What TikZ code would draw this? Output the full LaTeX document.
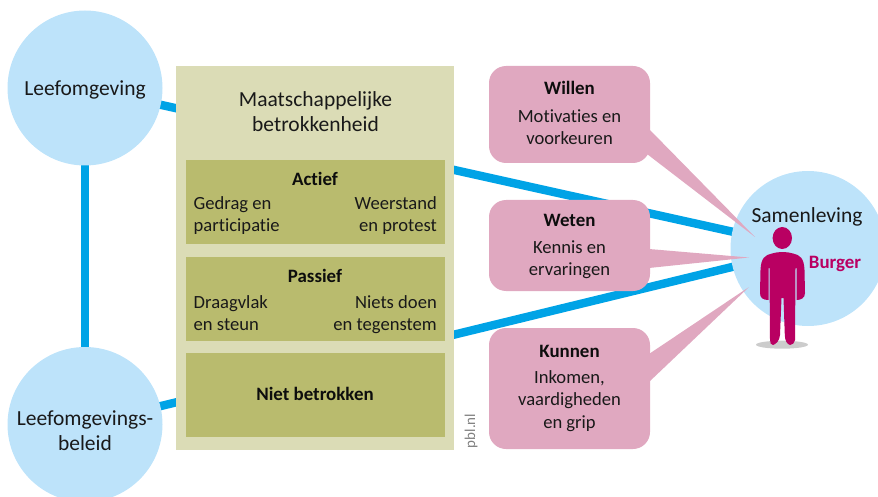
\documentclass[tikz,border=0pt]{standalone}
\usepackage{fontspec}
\setmainfont[Ligatures=NoCommon]{Carlito}
\usetikzlibrary{backgrounds}
\definecolor{skyc}{HTML}{BDE3FA}
\definecolor{linec}{HTML}{00A3E6}
\definecolor{paleo}{HTML}{DBDCB6}
\definecolor{olivec}{HTML}{B9BB6E}
\definecolor{pinkc}{HTML}{E0A8C0}
\definecolor{magc}{HTML}{B90062}
\definecolor{shadc}{HTML}{CCCCCC}
\newcommand{\bigt}{\fontsize{21.5}{25}\selectfont}
\newcommand{\midt}{\fontsize{18.6}{22.5}\selectfont}
\newcommand{\hdt}{\fontsize{18.9}{22.5}\selectfont}
\tikzset{
  world/.style={circle,fill=skyc,minimum size=155pt,inner sep=0pt},
  link/.style={draw=linec,line width=8.4pt},
  outer/.style={fill=paleo,inner sep=0pt},
  inner/.style={fill=olivec,inner sep=0pt,minimum width=259pt},
  bubble/.style={fill=pinkc,rounded corners=17pt,inner sep=0pt,minimum width=161pt},
  tail/.style={fill=pinkc},
  bigtxt/.style={font=\bigt,align=center,inner sep=0pt,text=black!90},
  midtxt/.style={font=\midt,align=center,inner sep=0pt,text=black!90},
  headtxt/.style={font=\hdt\bfseries,align=center,inner sep=0pt,text=black!95},
}
\begin{document}
\begin{tikzpicture}[x=1pt,y=-1pt]
\useasboundingbox (0,0) rectangle (878,497);
\clip (0,0) rectangle (878,497);
% circles
\node[world] (leef) at (85,88) {};
\node[world] (beleid) at (85,424.5) {};
\node[world] (sam) at (808,248.5) {};
% connectors behind everything
\begin{scope}[on background layer]
\draw[link] (leef.center) -- (beleid.center);
\draw[link] (leef.center) -- (sam.center);
\draw[link] (beleid.center) -- (sam.center);
\end{scope}
% central panel
\node[outer,minimum width=278pt,minimum height=384pt] (panel) at (315,258) {};
\node[inner,minimum height=84pt] (actief) at (315.5,202) {};
\node[inner,minimum height=84pt] (passief) at (315.5,299) {};
\node[inner,minimum height=84pt] (niet) at (315.5,395) {};
\node[bigtxt] (ptitle) at (315.5,111.5) {Maatschappelijke\\betrokkenheid};
\node[headtxt] (h1) at (315,179) {Actief};
\node[midtxt,align=left,anchor=west] (a1) at (193.5,215.5) {Gedrag en\\participatie};
\node[midtxt,align=right,anchor=east] (a2) at (437,215.5) {Weerstand\\en protest};
\node[headtxt] (h2) at (315,276) {Passief};
\node[midtxt,align=left,anchor=west] (b1) at (193.5,313) {Draagvlak\\en steun};
\node[midtxt,align=right,anchor=east] (b2) at (437,314.5) {Niets doen\\en tegenstem};
\node[headtxt] (h3) at (315,394) {Niet betrokken};
\node[rotate=90,font=\fontsize{15}{15}\selectfont,text=black!50,inner sep=0pt] (pbl) at (471,431) {pbl.nl};
% bubbles
\fill[tail] (649,129) -- (755,237) -- (647,154) -- cycle;
\fill[tail] (649,249) -- (749,257.5) -- (649,268) -- cycle;
\fill[tail] (649,354) -- (749,287) -- (649,382) -- cycle;
\node[bubble,minimum height=97pt] (willen) at (569.5,114.5) {};
\node[bubble,minimum height=91pt] (weten) at (569.5,245.5) {};
\node[bubble,minimum height=121pt] (kunnen) at (569.5,388.5) {};
\node[headtxt] (w1) at (569.5,88) {Willen};
\node[midtxt] (w2) at (569.5,127) {Motivaties en\\voorkeuren};
\node[headtxt] (k1) at (569.5,220) {Weten};
\node[midtxt] (k2) at (569.5,259.5) {Kennis en\\ervaringen};
\node[headtxt] (c1) at (569.5,351) {Kunnen};
\node[midtxt] (c2) at (569.5,401) {Inkomen,\\vaardigheden\\en grip};
% circle labels
\node[bigtxt] (t1) at (85,90) {Leefomgeving};
\node[bigtxt] (t2) at (85,430.5) {Leefomgevings-\\beleid};
\node[bigtxt] (t3) at (807,217) {Samenleving};
\node[font=\hdt\bfseries,text=magc,inner sep=0pt] (burger) at (835,264) {Burger};
% person
\fill[shadc] (782,344.7) ellipse [x radius=26, y radius=4];
\fill[magc] (782.3,238) ellipse [x radius=9.7, y radius=11];
\fill[magc] (772,253.5) .. controls (778,251.5) and (787,251.5) .. (793,253.5)
  .. controls (800,255) and (804,258) .. (804.5,270)
  -- (805,293) .. controls (805,298) and (801,300) .. (796.5,300)
  -- (796.5,268) -- (795.5,268) -- (795,340)
  .. controls (795,343) and (792,345) .. (790,345)
  .. controls (787,344) and (785,341) .. (784.8,335)
  -- (783.5,298) -- (781.5,298) -- (780,335)
  .. controls (779.5,341) and (776,344) .. (773,345)
  .. controls (771,345) and (770,343) .. (770,340)
  -- (769.5,268) -- (768.5,268) -- (768.5,300)
  .. controls (763,300) and (760,298) .. (760,293)
  -- (760.5,270) .. controls (761,258) and (765,255) .. (772,253.5) -- cycle;
\end{tikzpicture}
\end{document}
